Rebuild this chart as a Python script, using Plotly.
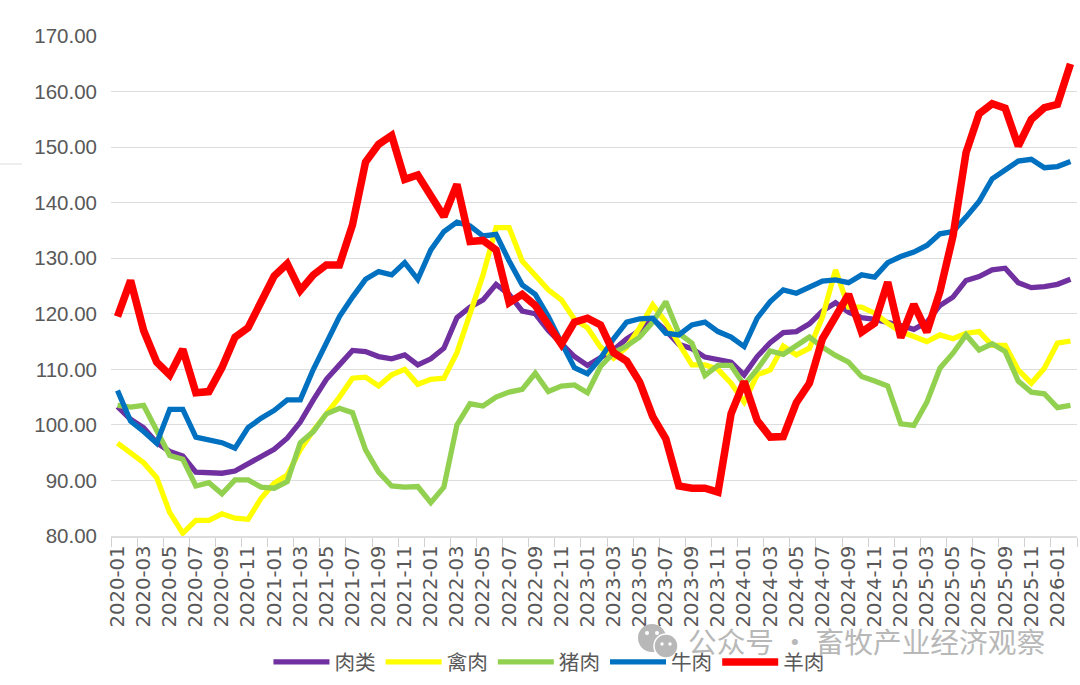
import plotly.graph_objects as go

months = [f"{y}-{m:02d}" for y in range(2020, 2027) for m in range(1, 13)][:74]

meat = [103.3,101,99.5,96.8,95.2,94.4,91.5,91.5,91.3,91.7,93,94.4,
        95.6,97.6,100.5,104.5,108.2,110.8,113.4,113.2,112.3,111.9,112.6,110.8,
        111.9,113.8,119.3,121.2,122.5,125.3,123.5,120.5,120,117,114.8,112.3,
        110.7,112,113.5,115.5,117,119,117,114.5,113.7,112.2,111.7,111.3,
        109,112.3,114.8,116.6,116.8,118.2,120.5,122,120.3,119.3,119,118.5,
        117.9,117.2,118.5,121.5,123,126,126.7,127.9,128.2,125.6,124.7,124.9,
        125.3,126.2]
poultry = [96.7,94.8,93.2,90.5,84.2,80.5,82.8,82.8,84,83.2,83,86.8,
           89.5,91,95.5,99,102,105,108.4,108.6,107,109,110,107.3,
           108.2,108.4,113,120,127,135.5,135.5,129.5,127,124.3,122.5,119,
           117.5,114,112,114,117.5,121.6,118.5,114.5,110.8,110.8,110,107.5,
           104.1,109,109.9,114.2,112.6,113.8,119.4,127.9,121.2,121.2,120.1,118.3,
           116.8,115.9,115,116.2,115.5,116.5,116.8,114.3,114.3,109.9,107.5,110.2,
           114.7,115.1]
pork = [103.5,103.2,103.5,99,94.5,93.8,89,89.6,87.6,90.1,90.1,88.8,
        88.6,89.8,96.8,98.8,102,103,102.2,95.5,91.5,89,88.8,88.9,
        86,88.8,100,103.8,103.4,105,105.9,106.4,109.3,106,107,107.2,
        105.8,110.5,113,114.2,115.8,118.5,122.2,116.5,114.7,108.9,110.7,110.7,
        107.2,110,113.3,112.7,114.3,115.8,114,112.5,111.3,108.7,107.9,107,
        100.2,99.9,104.1,110.2,112.9,116.2,113.5,114.6,113.2,107.9,105.9,105.6,
        103.1,103.5]
beef = [106.2,100.7,98.8,96.7,102.8,102.8,97.8,97.2,96.8,95.8,99.5,101.2,
        102.6,104.5,104.5,110,114.5,119.5,123,126.2,127.6,127,129.2,126.2,
        131.5,134.8,136.5,135.8,134,134.3,129.5,125.2,123.5,119.5,114.8,110.3,
        109.2,112,115.5,118.5,119.1,119.2,116.5,116.2,118,118.5,116.8,115.8,
        114.1,119.2,122.2,124.3,123.7,124.7,125.9,126.1,125.6,127,126.6,129.2,
        130.3,131.1,132.3,134.4,134.8,137.4,140.2,144.3,146,147.5,147.8,146.3,
        146.5,147.4]
mutton = [119.5,126,117,111.3,109,113.6,105.8,106,110.3,115.8,117.5,122.5,
          126.8,129,124.2,127,128.8,128.8,136,147.3,150.5,152.1,144.2,145,
          141.5,137.5,143.3,133,133.2,131.5,122,123.5,121.5,118,114.5,118.5,
          119.2,118,113,111.5,107.7,101.5,97.5,89,88.6,88.6,87.9,102,
          107.8,100.8,97.8,97.9,104,107.5,115.5,119.5,123.5,116.7,118.3,125.7,
          115.7,121.7,116.7,124,134,149,156,157.8,157,150.2,155,157.1,
          157.7,165]

series = [("肉类", meat, "#7030A0", 5.3), ("禽肉", poultry, "#FFFF00", 5.3),
          ("猪肉", pork, "#92D050", 5.3), ("牛肉", beef, "#0070C0", 5.3),
          ("羊肉", mutton, "#FF0000", 7.5)]

fig = go.Figure()
for name, vals, color, w in series:
    fig.add_trace(go.Scatter(x=months, y=vals, name=name, mode="lines",
                             line=dict(color=color, width=w)))

PW, PH = 966, 500
def px(x): return (x - 111) / PW
def py(y): return (536 - y) / PH
def circle(cx, cy, r, fill, line=None):
    return dict(type="circle", xref="paper", yref="paper",
                x0=px(cx - r), x1=px(cx + r), y0=py(cy + r), y1=py(cy - r),
                fillcolor=fill, line=dict(color=line or fill, width=1.5 if line else 0))

grid = "#DDDDDD"
wm = "#B8B8B8"
fig.update_layout(
    width=1080, height=685, autosize=False,
    margin=dict(l=111, r=3, t=36, b=149),
    paper_bgcolor="white", plot_bgcolor="white",
    showlegend=True,
    legend=dict(orientation="h", x=0.163, xanchor="left", y=-0.212, yanchor="top",
                itemwidth=56, bgcolor="rgba(0,0,0,0)",
                font=dict(family="Noto Sans CJK SC", size=20.6, color="#595959"),
                traceorder="normal"),
    xaxis=dict(type="category", categoryorder="array", categoryarray=months,
               automargin=False,
               range=[-0.5, 73.5], dtick=2, tickson="boundaries", ticks="outside",
               ticklen=9, tickcolor="#D0D0D0", tickwidth=1.3, tickangle=-90,
               showgrid=False, showline=True, linecolor=grid, linewidth=1.5,
               tickfont=dict(family="DejaVu Sans", size=19.6, color="#595959")),
    yaxis=dict(range=[80, 170], dtick=10, tickformat=".2f", ticks="",
               automargin=False, ticklabelstandoff=13,
               showgrid=True, gridcolor=grid, gridwidth=1.3, zeroline=False,
               showline=False,
               tickfont=dict(family="Liberation Sans", size=20.5, color="#595959")),
    shapes=[
        dict(type="line", xref="paper", yref="paper", x0=px(0), x1=px(22),
             y0=py(164), y1=py(164), line=dict(color="#DDDDDD", width=1)),
        circle(652, 638, 14, wm),
        circle(666, 646, 12, wm, "white"),
        circle(647, 633, 2, "white"), circle(657, 633, 2, "white"),
        circle(662, 644, 1.7, "white"), circle(670, 644, 1.7, "white"),
    ],
    annotations=[
        dict(text="公众号 · 畜牧产业经济观察", xref="paper", yref="paper",
             x=px(686), y=py(640), xanchor="left", yanchor="middle",
             showarrow=False, font=dict(family="Noto Sans CJK SC", size=28.7, color=wm)),
    ],
)
fig.write_html("out.html", config={"displayModeBar": False},
               post_script="document.body.style.margin='0';")
